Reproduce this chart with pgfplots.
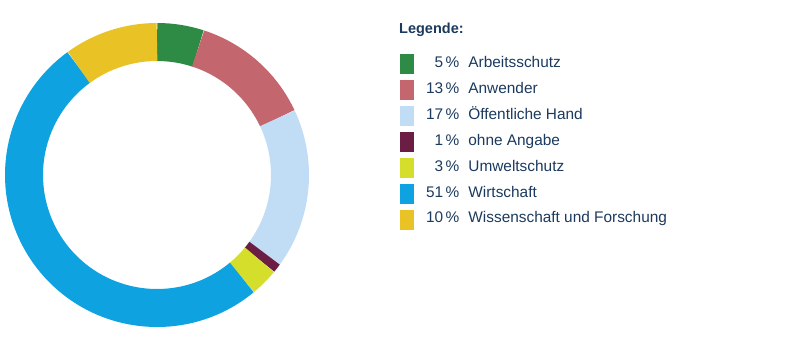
\documentclass[border=0pt]{standalone}
\usepackage{pgfplots}
\usepackage{pgfplotstable}
\pgfplotsset{compat=1.18}
\usetikzlibrary{calc}
\usepackage{fontspec}
\setmainfont{Liberation Sans}
\definecolor{cA}{HTML}{2E8B45}
\definecolor{cB}{HTML}{C4666E}
\definecolor{cC}{HTML}{C0DDF5}
\definecolor{cD}{HTML}{6B1D44}
\definecolor{cE}{HTML}{D5DF2B}
\definecolor{cF}{HTML}{0EA2E0}
\definecolor{cG}{HTML}{E9C325}
\definecolor{txt}{HTML}{1B3A5E}
\pgfplotstableread[col sep=comma]{
v,c,label
5,cA,Arbeitsschutz
13,cB,Anwender
17,cC,Öffentliche Hand
1,cD,ohne Angabe
3,cE,Umweltschutz
51,cF,Wirtschaft
10,cG,Wissenschaft und Forschung
}\data
\begin{document}
\begin{tikzpicture}
\begin{axis}[
  width=801pt, height=351pt, scale only axis,
  xmin=0, xmax=801, ymin=0, ymax=351,
  hide axis, clip=false,
  legend cell align=left,
  legend style={draw=none, fill=none, inner sep=0pt, outer sep=0pt,
    at={(axis cs:400,296.7)}, anchor=north west,
    row sep=6.5pt, column sep=0pt,
    font=\fontsize{15.4}{18}\selectfont,
    nodes={inner sep=0pt, text=txt, text height=0.72em, text depth=0pt}},
]
\def\cum{0}
\pgfplotsforeachungrouped \i in {0,...,6}{%
  \pgfplotstablegetelem{\i}{v}\of\data \let\myv\pgfplotsretval
  \pgfplotstablegetelem{\i}{c}\of\data \let\myc\pgfplotsretval
  \pgfplotstablegetelem{\i}{label}\of\data \let\mylbl\pgfplotsretval
  \pgfmathsetmacro\aone{90-3.6*\cum}%
  \pgfmathsetmacro\atwo{90-3.6*(\cum+\myv)}%
  \pgfmathsetmacro\cum{\cum+\myv}%
  \edef\temp{%
    \noexpand\draw[line width=38pt, draw=\myc] ($(axis cs:157,176)+(\aone:133pt)$) arc[start angle=\aone, end angle=\atwo, radius=133pt];
    \noexpand\addlegendimage{legend image code/.code={\noexpand\fill[\myc] (0pt,-9.5pt) rectangle (13pt,9.5pt);}}
    \noexpand\addlegendentry{\noexpand\makebox[46pt][r]{\myv\noexpand\,\noexpand\%}\noexpand\hspace{9pt}\mylbl}%
  }%
  \temp
}
\node[anchor=base west, inner sep=0pt, text=txt, font=\fontsize{14.5}{17}\selectfont\bfseries] at (axis cs:399,317) {Legende:};
\coordinate (bl) at (axis cs:0,0);
\coordinate (tr) at (axis cs:801,351);
\end{axis}
\pgfresetboundingbox
\path[use as bounding box] (bl) rectangle (tr);
\end{tikzpicture}
\end{document}
